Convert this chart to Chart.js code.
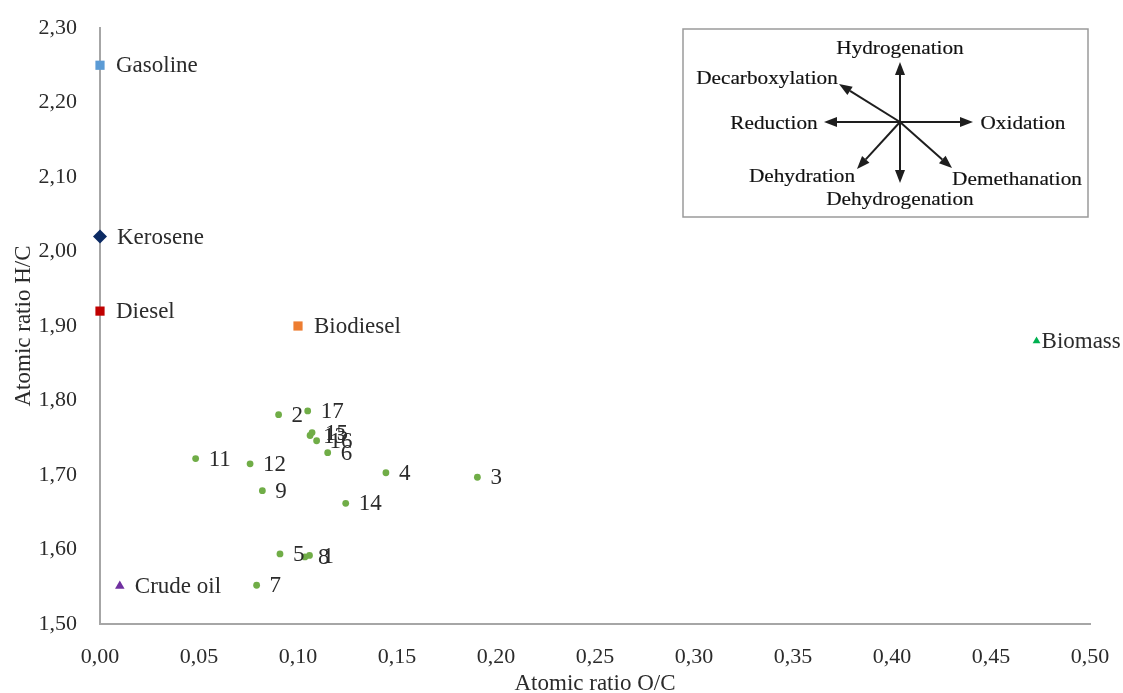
<!DOCTYPE html>
<html>
<head>
<meta charset="utf-8">
<script src="https://cdn.jsdelivr.net/npm/chart.js@4.4.0/dist/chart.umd.min.js"></script>
<style>
html, body { margin: 0; padding: 0; background: #fff; }
#wrap { width: 1123px; height: 693px; }
</style>
</head>
<body>
<div id="wrap"><canvas id="vanKrevelen"></canvas></div>
<script>
// reference fuels
var fuelNames = ['Gasoline', 'Kerosene', 'Diesel', 'Biodiesel', 'Biomass', 'Crude oil'];
var fuelOC = [0.000, 0.000, 0.000, 0.100, 0.473, 0.010];
var fuelHC = [2.250, 2.020, 1.920, 1.900, 1.880, 1.551];

// numbered samples
var sampleIds = ['1', '2', '3', '4', '5', '6', '7', '8', '9', '11', '12', '13', '14', '15', '16', '17'];
var sampleOC = [0.1058, 0.0902, 0.1906, 0.1444, 0.0909, 0.1150, 0.0791, 0.1035, 0.0820, 0.0483, 0.0758, 0.1061, 0.1241, 0.1071, 0.1094, 0.1049];
var sampleHC = [1.592, 1.781, 1.697, 1.703, 1.594, 1.730, 1.552, 1.590, 1.679, 1.722, 1.715, 1.753, 1.662, 1.757, 1.746, 1.786];

// axis ticks
var xTickStep = 0.05;
var yTickStep = 0.10;

// marker look for each fuel
var fuelColors = ['#5B9BD5', '#0B2A63', '#C00000', '#ED7D31', '#00B050', '#7030A0'];
var fuelShapes = ['rect', 'rectRot', 'rect', 'rect', 'triangle', 'triangle'];
var fuelRadius = [6.5, 7, 6.5, 6.5, 4.5, 5.5];
var fuelLabelGap = [16, 17, 16, 16, 5, 15];

var serif = '"Liberation Serif", "Times New Roman", serif';
var textColor = '#2b2b2b';
var axisColor = '#A6A6A6';

function commaNum(v) {
	return Number(v).toFixed(2).replace('.', ',');
}

var datasets = [];
for (var i = 0; i < fuelNames.length; i++) {
	datasets.push({
		label: fuelNames[i],
		data: [{x: fuelOC[i], y: fuelHC[i]}],
		pointLabels: [fuelNames[i]],
		labelGap: fuelLabelGap[i],
		pointStyle: fuelShapes[i],
		pointRadius: fuelRadius[i],
		backgroundColor: fuelColors[i],
		borderColor: fuelColors[i],
		borderWidth: 0,
		clip: false
	});
}
datasets.push({
	label: 'Samples',
	data: sampleOC.map(function (x, k) { return {x: x, y: sampleHC[k]}; }),
	pointLabels: sampleIds,
	labelGap: 13,
	pointStyle: 'circle',
	pointRadius: 3.4,
	backgroundColor: '#70AD47',
	borderColor: '#70AD47',
	borderWidth: 0,
	clip: false
});

// text next to each marker
var pointText = {
	id: 'pointText',
	afterDatasetsDraw: function (chart) {
		var ctx = chart.ctx;
		ctx.save();
		ctx.font = '23px ' + serif;
		ctx.fillStyle = textColor;
		ctx.textAlign = 'left';
		ctx.textBaseline = 'middle';
		chart.data.datasets.forEach(function (ds, di) {
			chart.getDatasetMeta(di).data.forEach(function (pt, k) {
				ctx.fillText(ds.pointLabels[k], pt.x + ds.labelGap, pt.y + 1);
			});
		});
		ctx.restore();
	}
};

// the reaction-direction diagram in the upper right corner
var reactionBox = {
	id: 'reactionBox',
	afterDraw: function (chart) {
		var ctx = chart.ctx;
		var a = chart.chartArea;
		var bx = a.right - 407, by = a.top + 1, bw = 405, bh = 188;
		var cx = a.right - 190, cy = a.top + 94;

		ctx.save();
		ctx.strokeStyle = '#9a9a9a';
		ctx.lineWidth = 1.5;
		ctx.strokeRect(bx, by, bw, bh);

		var tips = [[0, -60], [0, 61], [-76, 0], [73, 0], [-61, -38], [-43, 47], [52, 46]];
		ctx.strokeStyle = '#1e1e1e';
		ctx.fillStyle = '#1e1e1e';
		ctx.lineWidth = 2;
		tips.forEach(function (t) {
			var ex = cx + t[0], ey = cy + t[1];
			var ang = Math.atan2(t[1], t[0]);
			var len = 13, half = 5;
			var baseX = ex - Math.cos(ang) * len, baseY = ey - Math.sin(ang) * len;
			ctx.beginPath();
			ctx.moveTo(cx, cy);
			ctx.lineTo(baseX, baseY);
			ctx.stroke();
			ctx.beginPath();
			ctx.moveTo(ex, ey);
			ctx.lineTo(baseX - Math.sin(ang) * half, baseY + Math.cos(ang) * half);
			ctx.lineTo(baseX + Math.sin(ang) * half, baseY - Math.cos(ang) * half);
			ctx.closePath();
			ctx.fill();
		});

		var words = [
			['Hydrogenation', 0, -73],
			['Decarboxylation', -133, -43],
			['Reduction', -126, 2],
			['Oxidation', 123, 2],
			['Dehydration', -98, 55],
			['Dehydrogenation', 0, 78],
			['Demethanation', 117, 58]
		];
		ctx.font = '18px ' + serif;
		ctx.textAlign = 'center';
		ctx.textBaseline = 'middle';
		ctx.fillStyle = '#111';
		ctx.strokeStyle = '#111';
		ctx.lineWidth = 0.15;
		words.forEach(function (w) {
			ctx.save();
			ctx.translate(cx + w[1], cy + w[2]);
			ctx.scale(1.18, 1);
			ctx.fillText(w[0], 0, 0);
			ctx.strokeText(w[0], 0, 0);
			ctx.restore();
		});
		ctx.restore();
	}
};

var chart = new Chart(document.getElementById('vanKrevelen'), {
	type: 'scatter',
	data: {datasets: datasets},
	options: {
		responsive: true,
		maintainAspectRatio: false,
		animation: false,
		layout: {padding: {left: 0, right: 33, top: 28, bottom: 0}},
		plugins: {
			legend: {display: false},
			tooltip: {enabled: false}
		},
		scales: {
			x: {
				type: 'linear',
				min: 0,
				max: 0.5,
				grid: {display: false},
				border: {display: true, color: axisColor, width: 2},
				ticks: {
					stepSize: xTickStep,
					padding: 12,
					color: textColor,
					font: {family: serif, size: 22},
					callback: commaNum
				},
				title: {
					display: true,
					text: 'Atomic ratio O/C',
					color: textColor,
					font: {family: serif, size: 23},
					padding: {top: 0, bottom: -5}
				},
				afterFit: function (s) { s.height = 69; s.paddingLeft = 0; s.paddingRight = 0; }
			},
			y: {
				type: 'linear',
				min: 1.5,
				max: 2.3,
				grid: {display: false},
				border: {display: true, color: axisColor, width: 2},
				ticks: {
					stepSize: yTickStep,
					padding: 15,
					color: textColor,
					font: {family: serif, size: 22},
					callback: commaNum
				},
				title: {
					display: true,
					text: 'Atomic ratio H/C',
					color: textColor,
					font: {family: serif, size: 23},
					padding: {top: 10, bottom: 0}
				},
				afterFit: function (s) { s.width = 100; s.paddingTop = 0; s.paddingBottom = 0; }
			}
		}
	},
	plugins: [pointText, reactionBox]
});
</script>
</body>
</html>
